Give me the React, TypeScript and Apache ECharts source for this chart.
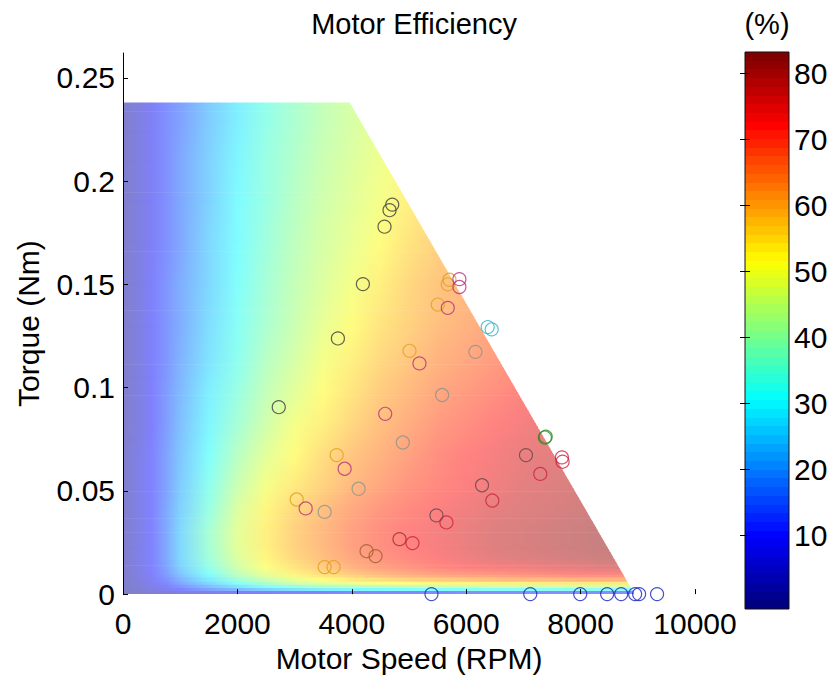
import React, { useEffect, useRef } from "react";
import * as echarts from "echarts";

// ---------- data ----------
const speedSamples = [0, 250, 500, 750, 1000, 1500, 2000, 2500, 3000, 3500, 4000, 4500, 5000, 5500, 6000, 6500, 7000, 7500, 8000, 8500, 9000];
const torqueEdges = [0, 0.0015, 0.003, 0.0045, 0.006, 0.008, 0.011, 0.015, 0.02, 0.027, 0.035, 0.045, 0.06, 0.075, 0.09, 0.105, 0.12, 0.14, 0.16, 0.18, 0.2, 0.22, 0.238];

// efficiency (%) per torque band (bottom -> top), sampled at speedSamples
const eff00 = [0, 1, 2, 3, 4, 6, 8, 9, 10, 10, 11, 11, 11, 11, 12, 12, 12, 12, 12, 12, 12];
const eff01 = [0, 2, 4, 7, 10, 15, 19, 23, 26, 28, 29, 30, 31, 31, 32, 32, 32, 33, 33, 33, 33];
const eff02 = [1, 3, 6, 9, 13, 20, 26, 31, 35, 38, 40, 41, 42, 43, 43, 44, 44, 44, 45, 45, 45];
const eff03 = [1, 3, 7, 11, 16, 24, 32, 39, 44, 47, 49, 51, 52, 53, 53, 54, 54, 55, 55, 55, 55];
const eff04 = [1, 4, 8, 12, 18, 27, 36, 43, 48, 52, 55, 57, 59, 60, 61, 62, 63, 63, 64, 64, 64];
const eff05 = [1, 4, 9, 14, 21, 31, 41, 48, 53, 57, 60, 63, 65, 67, 68, 69, 70, 71, 72, 72, 72];
const eff06 = [1, 5, 10, 15, 23, 34, 44, 51, 56, 60, 64, 67, 69, 71, 73, 74, 75, 76, 77, 78, 78];
const eff07 = [1, 5, 10, 16, 24, 36, 46, 53, 58, 62, 66, 69, 71, 73, 75, 77, 78, 79, 80, 81, 81];
const eff08 = [1, 5, 10, 16, 24, 37, 47, 54, 59, 63, 67, 70, 72, 74, 76, 78, 79, 80, 81, 82, 82];
const eff09 = [1, 5, 10, 16, 24, 37, 47, 54, 59, 63, 67, 70, 72, 74, 76, 78, 79, 80, 81, 82, 82];
const eff10 = [1, 5, 10, 16, 23, 35, 46, 53, 58, 62, 66, 69, 71, 73, 75, 77, 78, 79, 80, 81, 82];
const eff11 = [1, 5, 10, 15, 22, 33, 43, 50, 55, 59, 63, 66, 69, 71, 73, 75, 77, 78, 79, 80, 81];
const eff12 = [1, 5, 10, 15, 21, 31, 40, 47, 52, 57, 61, 64, 67, 70, 72, 74, 76, 77, 78, 79, 80];
const eff13 = [1, 4, 9, 14, 20, 29, 37, 44, 50, 54, 58, 62, 65, 68, 70, 72, 74, 76, 77, 78, 79];
const eff14 = [1, 4, 9, 14, 19, 28, 35, 42, 47, 52, 56, 60, 63, 66, 68, 70, 72, 74, 75, 76, 77];
const eff15 = [1, 4, 9, 13, 18, 26, 33, 40, 45, 50, 54, 58, 61, 64, 66, 68, 70, 72, 73, 74, 75];
const eff16 = [1, 4, 9, 13, 17, 25, 32, 38, 43, 48, 52, 56, 59, 62, 64, 66, 68, 70, 71, 72, 73];
const eff17 = [1, 4, 9, 13, 17, 24, 31, 37, 42, 46, 50, 54, 58, 61, 63, 65, 67, 69, 70, 71, 72];
const eff18 = [1, 4, 8, 12, 16, 24, 30, 36, 41, 45, 48, 52, 56, 59, 61, 63, 65, 66, 67, 68, 69];
const eff19 = [1, 4, 8, 12, 16, 23, 30, 35, 40, 44, 47, 50, 54, 57, 59, 61, 63, 64, 65, 66, 67];
const eff20 = [1, 4, 8, 12, 16, 23, 29, 35, 39, 43, 46, 49, 52, 55, 58, 60, 62, 63, 64, 65, 66];
const eff21 = [1, 4, 8, 12, 15, 22, 28, 34, 38, 42, 45, 48, 51, 54, 57, 59, 61, 62, 63, 64, 65];
const effRows = [eff00, eff01, eff02, eff03, eff04, eff05, eff06, eff07, eff08, eff09, eff10, eff11, eff12, eff13, eff14, eff15, eff16, eff17, eff18, eff19, eff20, eff21];

// operating envelope (max torque line)
const envelopeSpeed = [3960, 8940];
const envelopeTorque = [0.238, 0];

// measured points [speed RPM, torque Nm]
const ptsBlack = [[4707, 0.1886], [4660, 0.1859], [4572, 0.1779], [4194, 0.1501], [3757, 0.1238], [2723, 0.0905]];
const ptsOrange = [[5707, 0.1522], [5678, 0.150], [5503, 0.1402], [5009, 0.1178], [3736, 0.0673], [3037, 0.0458], [3525, 0.0131], [3682, 0.0131]];
const ptsMagenta = [[5881, 0.1525], [5881, 0.1487], [5678, 0.1386], [5183, 0.1117], [4584, 0.0873], [3875, 0.0607], [3194, 0.0415]];
const ptsCyan = [[6376, 0.1293], [6446, 0.1282]];
const ptsGray = [[6161, 0.1173], [5579, 0.0964], [4892, 0.0734], [4119, 0.051], [3525, 0.0398]];
const ptsGreen = [[7376, 0.0758], [7390, 0.0762]];
const ptsDark = [[7045, 0.0673], [6277, 0.0527], [5480, 0.0381]];
const ptsRed = [[7673, 0.0662], [7685, 0.0641], [7295, 0.0582], [6457, 0.0453], [5654, 0.0347], [5061, 0.0247]];
const ptsDarkRed = [[4834, 0.0266]];
const ptsBrown = [[4258, 0.0208], [4415, 0.0184]];
const ptsBlue = [[5393, 0], [7120, 0], [7993, 0], [8464, 0], [8709, 0], [8953, 0], [9023, 0], [9337, 0]];

const xTicks = [0, 2000, 4000, 6000, 8000, 10000];
const yTicks = [0, 0.05, 0.1, 0.15, 0.2, 0.25];
const cbTicks = [10, 20, 30, 40, 50, 60, 70, 80];
const cbMin = -1.2;
const cbMax = 83.2;

// ---------- helpers ----------
const FONT = "'Liberation Sans', Arial, Helvetica, sans-serif";
const clamp = (v: number) => Math.max(0, Math.min(1, v));
function jetRGB(v: number) {
  return [clamp(1.5 - Math.abs(4 * v - 3)), clamp(1.5 - Math.abs(4 * v - 2)), clamp(1.5 - Math.abs(4 * v - 1))];
}
const WASH = 0.5;
function washed(c: number[], alpha: number) {
  return c.map((x) => 255 * (1 - alpha) + 255 * x * alpha);
}
const toStr = (c: number[]) => `rgb(${Math.round(c[0])},${Math.round(c[1])},${Math.round(c[2])})`;
const effNorm = (e: number) => clamp((e - cbMin) / (cbMax - cbMin));
const rowColors = effRows.map((row) => row.map((e) => washed(jetRGB(effNorm(e)), WASH)));
const bandMid = effRows.map((_, i) => (torqueEdges[i] + torqueEdges[i + 1]) / 2);
function edgeSpeed(t: number) {
  const f = (envelopeTorque[0] - t) / (envelopeTorque[0] - envelopeTorque[1]);
  return envelopeSpeed[0] + f * (envelopeSpeed[1] - envelopeSpeed[0]);
}

export default function App() {
  const ref = useRef<HTMLDivElement>(null);
  useEffect(() => {
    if (!ref.current) return;
    const chart = echarts.init(ref.current, undefined, { renderer: "svg" });
    const sMax = speedSamples[speedSamples.length - 1];
    const last = effRows.length - 1;

    const scatter = (data: number[][], color: string) => ({
      type: "scatter",
      xAxisIndex: 0,
      yAxisIndex: 0,
      data,
      symbol: "circle",
      symbolSize: 13,
      clip: false,
      z: 6,
      itemStyle: { color: "rgba(0,0,0,0)", borderColor: color, borderWidth: 1.2 },
      emphasis: { disabled: true },
    });

    const cbStops: any[] = [];
    const N = 64;
    for (let k = 0; k < N; k++) {
      const c = toStr(washed(jetRGB(k / (N - 1)), 1));
      cbStops.push({ offset: k / N, color: c });
      cbStops.push({ offset: (k + 1) / N, color: c });
    }

    const axisFont = { fontFamily: FONT, fontSize: 30, color: "#000" };

    chart.setOption({
      animation: false,
      backgroundColor: "#fff",
      grid: [
        { left: 123, top: 53, width: 572, height: 545 },
        { left: 745, top: 52, width: 44, height: 557 },
      ],
      xAxis: [
        {
          type: "value", gridIndex: 0, min: 0, max: 10000, interval: 2000, z: 5,
          axisLine: { show: false },
          axisTick: { show: true, inside: true, length: 5, lineStyle: { color: "#000" }, customValues: xTicks },
          axisLabel: { ...axisFont, margin: 14, customValues: xTicks, formatter: (v: number) => String(v) },
          splitLine: { show: false },
          name: "Motor Speed (RPM)", nameLocation: "middle", nameGap: 48,
          nameTextStyle: { ...axisFont },
        },
        { type: "value", gridIndex: 1, min: 0, max: 1, show: false },
      ],
      yAxis: [
        {
          type: "value", gridIndex: 0, min: 0, max: 0.262, z: 5,
          axisLine: { show: true, lineStyle: { color: "#000", width: 1 } },
          axisTick: { show: true, inside: true, length: 5, lineStyle: { color: "#000" }, customValues: yTicks },
          axisLabel: { ...axisFont, margin: 8, customValues: yTicks, formatter: (v: number) => String(Math.round(v * 100) / 100) },
          splitLine: { show: false },
          name: "Torque (Nm)", nameLocation: "middle", nameGap: 80, nameRotate: 90,
          nameTextStyle: { ...axisFont },
        },
        {
          type: "value", gridIndex: 1, min: cbMin, max: cbMax, position: "right", z: 5,
          axisLine: { show: false },
          axisTick: { show: true, inside: true, length: 5, lineStyle: { color: "#000" }, customValues: cbTicks },
          axisLabel: { ...axisFont, margin: 5, customValues: cbTicks },
          splitLine: { show: false },
        },
        {
          type: "value", gridIndex: 1, min: cbMin, max: cbMax, position: "left", z: 5,
          axisLine: { show: false },
          axisTick: { show: true, inside: true, length: 5, lineStyle: { color: "#000" }, customValues: cbTicks },
          axisLabel: { show: false },
          splitLine: { show: false },
        },
      ],
      series: [
        {
          type: "custom",
          xAxisIndex: 0,
          yAxisIndex: 0,
          z: 2,
          clip: false,
          silent: true,
          data: effRows.map((_, i) => [0, torqueEdges[i], i]),
          encode: { x: 0, y: 1 },
          renderItem: (params: any, api: any) => {
            const i = api.value(2);
            const lo = torqueEdges[i];
            const hi = torqueEdges[i + 1];
            const hPx = api.coord([0, lo])[1] - api.coord([0, hi])[1];
            const n = Math.max(1, Math.round(hPx / 3));
            const xa = api.coord([0, lo])[0];
            const xb = api.coord([sMax, lo])[0];
            const children: any[] = [];
            for (let j = 0; j < n; j++) {
              const tA = lo + (j / n) * (hi - lo);
              const tB = lo + ((j + 1) / n) * (hi - lo);
              const tc = (tA + tB) / 2;
              let nb = i;
              let w = 0;
              if (tc < bandMid[i] && i > 0) {
                nb = i - 1;
                w = (bandMid[i] - tc) / (bandMid[i] - bandMid[i - 1]);
              } else if (tc > bandMid[i] && i < last) {
                nb = i + 1;
                w = (tc - bandMid[i]) / (bandMid[i + 1] - bandMid[i]);
              }
              const stops = speedSamples.map((s, k) => {
                const a = rowColors[i][k];
                const b = rowColors[nb][k];
                return { offset: s / sMax, color: toStr([0, 1, 2].map((q) => a[q] * (1 - w) + b[q] * w)) };
              });
              const p0 = api.coord([0, tA]);
              const p1 = api.coord([edgeSpeed(tA), tA]);
              const p2 = api.coord([edgeSpeed(tB), tB]);
              const p3 = api.coord([0, tB]);
              const isTop = i === last && j === n - 1;
              if (!isTop) { p2[1] -= 0.7; p3[1] -= 0.7; }
              children.push({
                type: "polygon",
                shape: { points: [p0, p1, p2, p3] },
                style: { fill: new echarts.graphic.LinearGradient(xa, 0, xb, 0, stops, true) },
              });
            }
            return { type: "group", children };
          },
        },
        {
          type: "custom",
          xAxisIndex: 1,
          yAxisIndex: 1,
          z: 2,
          silent: true,
          data: [[0, cbMin, cbMax]],
          encode: { x: 0, y: [1, 2] },
          renderItem: (params: any, api: any) => {
            const a = api.coord([0, api.value(2)]);
            const b = api.coord([1, api.value(1)]);
            return {
              type: "rect",
              shape: { x: a[0], y: a[1], width: b[0] - a[0], height: b[1] - a[1] },
              style: { fill: new echarts.graphic.LinearGradient(0, 1, 0, 0, cbStops), stroke: "#111", lineWidth: 1 },
            };
          },
        },
        scatter(ptsBlack, "#3c3c3c"),
        scatter(ptsOrange, "#e0a020"),
        scatter(ptsMagenta, "#b8307e"),
        scatter(ptsCyan, "#2fb4c8"),
        scatter(ptsGray, "#8a9690"),
        scatter(ptsGreen, "#2a8a2a"),
        scatter(ptsDark, "#6a4646"),
        scatter(ptsRed, "#cc2040"),
        scatter(ptsDarkRed, "#a02c2c"),
        scatter(ptsBrown, "#a0602a"),
        scatter(ptsBlue, "#1a24c0"),
      ],
      graphic: [
        {
          type: "text", x: 414, y: 24, z: 10,
          style: { text: "Motor Efficiency", fontFamily: FONT, fontSize: 29, fill: "#000", align: "center", verticalAlign: "middle" },
        },
        {
          type: "text", x: 767, y: 24, z: 10,
          style: { text: "(%)", fontFamily: FONT, fontSize: 29, fill: "#000", align: "center", verticalAlign: "middle" },
        },
      ],
    });
    return () => chart.dispose();
  }, []);
  return <div ref={ref} style={{ position: "absolute", left: 0, top: 0, width: 838, height: 678 }} />;
}
